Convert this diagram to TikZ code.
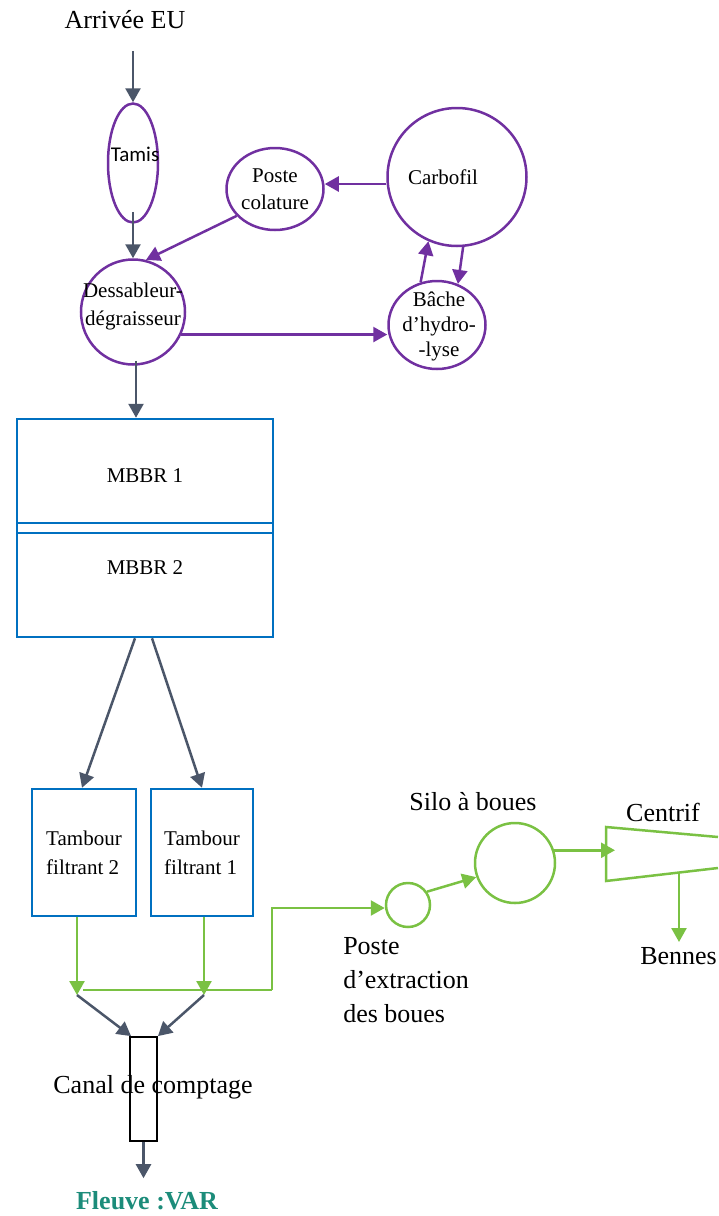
\documentclass[tikz,border=0pt]{standalone}
\usepackage{fontspec}
\setmainfont{Liberation Serif}
\newfontfamily\carlito{Carlito}
\usetikzlibrary{shapes.geometric,arrows.meta}
\definecolor{eau}{HTML}{4B5669}
\definecolor{violet}{HTML}{7030A0}
\definecolor{bleu}{HTML}{0070C0}
\definecolor{boue}{HTML}{7AC143}
\definecolor{fleuve}{HTML}{1C8C7A}

\begin{document}
\begin{tikzpicture}[x=1pt,y=-1pt,>={Triangle[length=14pt,width=15pt]},line width=2.5pt]
              \tikzstyle{small}=[font=\fontsize{21}{27}\selectfont,align=center];
              \tikzstyle{big}=[font=\fontsize{26}{34}\selectfont];
              \tikzstyle{ell}=[draw=violet,shape=ellipse,inner sep=0pt];
              \tikzstyle{box}=[draw=bleu,shape=rectangle,inner sep=0pt];
              \tikzstyle{gcirc}=[draw=boue,shape=circle,inner sep=0pt];
                \useasboundingbox (0,0) rectangle (718,1216);
                \clip (0,0) rectangle (718,1216);

                % pretraitement
                \node[big] (arr) at (125,20) {Arrivée EU};
                \node[ell,minimum width=50pt,minimum height=119pt] (tamis) at (133,163) {};
                \node[font=\carlito\fontsize{21}{25}\selectfont] (tamis-t) at (135,154) {Tamis};
                \node[ell,minimum width=104pt,minimum height=105pt] (dess) at (133,312) {};
                \node[small,font=\fontsize{21}{28}\selectfont] (dess-t) at (133,306) {Dessableur-\\dégraisseur};
                \node[ell,small,minimum width=97pt,minimum height=82pt] (poste) at (275,189) {Poste\\colature};
                \node[ell,minimum width=139pt,minimum height=138pt] (carbo) at (457,177) {};
                \node[small] (carbo-t) at (443,177) {Carbofil};
                \node[ell,minimum width=97pt,minimum height=88pt] (bache) at (437,325) {};
                \node[small,font=\fontsize{21}{25}\selectfont] (bache-t) at (439,326) {Bâche\\d’hydro-\\-lyse};

                % biologie
                \node[box,small,minimum width=256pt,minimum height=114pt] (mbbr1) at (145,476) {MBBR 1};
                \node[box,minimum width=256pt,minimum height=114pt] (mbbr2) at (145,580) {};
                \node[small] (mbbr2-t) at (145,568) {MBBR 2};
                \node[box,small,align=left,minimum width=104pt,minimum height=127pt,font=\fontsize{21}{29}\selectfont] (tf2) at (84,852.5) {Tambour\\filtrant 2};
                \node[box,small,align=left,minimum width=102pt,minimum height=127pt,font=\fontsize{21}{29}\selectfont] (tf1) at (202,852.5) {Tambour\\filtrant 1};

                % rejet
                \node[big] (canal-t) at (153,1087) {Canal de comptage};
                \node[draw=black,line width=1.8pt,minimum width=27pt,minimum height=104pt,inner sep=0pt] (canal) at (143.5,1089) {};
                \node[big,font=\fontsize{26}{34}\selectfont\bfseries,text=fleuve] (fleuve) at (147,1201) {Fleuve :VAR};

                % boues
                \node[gcirc,minimum size=44pt] (pext) at (408,905) {};
                \node[big,align=left,anchor=north west,inner sep=0pt] (pext-t) at (342,936) {Poste\\d’extraction\\des boues};
                \node[gcirc,minimum size=80pt] (silo) at (515,863) {};
                \node[big] (silo-t) at (473,802) {Silo à boues};
                \node[big] (centrif) at (663,812) {Centrif};
                \node[big,anchor=west,inner sep=1pt] (bennes) at (638,956) {Bennes};
                \coordinate (cf-a) at (606,827);
                \coordinate (cf-b) at (718,837);
                \coordinate (cf-c) at (718,868);
                \coordinate (cf-d) at (606,881);
                \coordinate (cf-in) at (615,850);
                \coordinate (cf-out) at (679,873);
                \coordinate (bn) at (679,942);
                \coordinate (j2) at (77,995);
                \coordinate (j1) at (204,995);
                \coordinate (bend) at (272,990);

                \path[->,draw=eau] (tamis.north |- arr.south) -- (tamis.north) [shorten <=17pt];
                \path[->,draw=eau] ([yshift=12pt]tamis.south) -- (dess.north);
                \path[->,draw=eau] ([xshift=3pt,yshift=5pt]dess.south) -- ([xshift=3pt]dess.south |- mbbr1.north);
                \path[->,draw=violet] ([yshift=-7pt]carbo.west) -- ([yshift=-7pt]carbo.west -| poste.east);
                \path[->,draw=violet] (poste.215) -- (dess.76);
                \path[->,draw=violet] (dess.335) -- (dess.335 -| bache.west);
                \path[->,draw=violet] (bache.111) -- (carbo.246);
                \path[->,draw=violet] (carbo.275) -- (bache.63);
                \path[->,draw=eau] ([xshift=-10pt]mbbr2.south) -- ([xshift=-2pt]tf2.north);
                \path[->,draw=eau] ([xshift=7pt]mbbr2.south) -- (tf1.north);

                \path[->,draw=boue] (j2 |- tf2.south) -- (j2);
                \path[->,draw=boue] (j1 |- tf1.south) -- (j1);
                \path[draw=boue] ([xshift=6pt]j2 |- bend) -- (bend);
                \path[->,draw=boue] (bend) |- ([yshift=-3pt]pext.west);
                \path[->,draw=eau] (j2) -- ([xshift=2pt]canal.north west);
                \path[->,draw=eau] (j1) -- (canal.north east);
                \path[->,draw=eau] (canal.south) -- (canal.south |- fleuve.north) [shorten >=9pt];

                \path[->,draw=boue] (pext.35) -- (silo.200);
                \path[->,draw=boue] (silo.18) -- (silo.18 -| cf-in);
                \path[draw=boue] (cf-b) -- (cf-a) -- (cf-d) -- (cf-c);
                \path[->,draw=boue] (cf-out) -- (bn);
            \end{tikzpicture}
\end{document}
